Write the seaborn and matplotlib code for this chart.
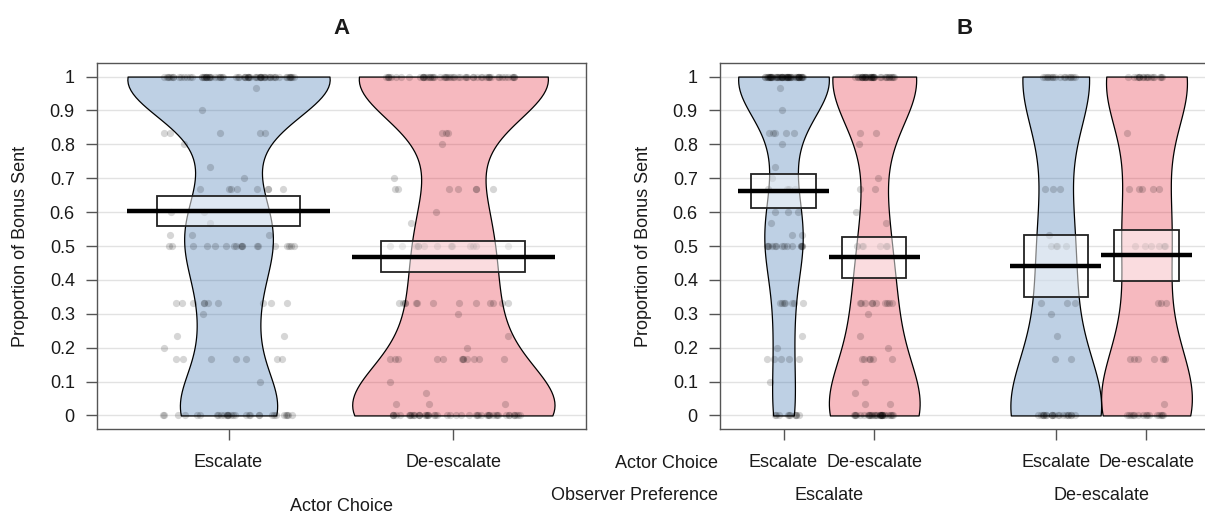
import numpy as np
import pandas as pd
import matplotlib
matplotlib.use("Agg")
import matplotlib.pyplot as plt
import seaborn as sns

# Proportion of bonus sent: response levels and number of participants per level,
# one pair of lists per (observer preference, actor choice) condition.
esc_pref_esc_choice_vals = [0, 0.1, 0.167, 0.2, 0.233, 0.333, 0.5, 0.533, 0.567, 0.6,
                            0.667, 0.7, 0.733, 0.8, 0.833, 0.9, 0.967, 1]
esc_pref_esc_choice_counts = [10, 1, 5, 1, 1, 7, 14, 2, 1, 3, 5, 1, 1, 1, 5, 1, 1, 52]

esc_pref_de_choice_vals = [0, 0.033, 0.067, 0.1, 0.167, 0.2, 0.233, 0.3, 0.333, 0.5,
                           0.567, 0.6, 0.667, 0.7, 0.8, 0.833, 1]
esc_pref_de_choice_counts = [32, 2, 1, 1, 6, 1, 1, 1, 10, 7, 1, 1, 2, 1, 1, 2, 36]

de_pref_esc_choice_vals = [0, 0.167, 0.233, 0.3, 0.333, 0.5, 0.533, 0.667, 1]
de_pref_esc_choice_counts = [20, 2, 1, 1, 3, 4, 1, 3, 16]

de_pref_de_choice_vals = [0, 0.033, 0.167, 0.333, 0.5, 0.667, 0.833, 1]
de_pref_de_choice_counts = [15, 1, 6, 3, 6, 5, 1, 17]

choice_labels = ["Escalate", "De-escalate"]
pref_labels = ["Escalate", "De-escalate"]

# Means and inference bands, panel A (by actor choice)
a_means = [0.603, 0.468]
a_band_lo = [0.558, 0.423]
a_band_hi = [0.649, 0.514]

# Means and inference bands, panel B (pref x choice: EE, ED, DE, DD)
b_means = [0.662, 0.467, 0.440, 0.472]
b_band_lo = [0.613, 0.406, 0.349, 0.396]
b_band_hi = [0.711, 0.526, 0.532, 0.548]

y_ticks = [0, 0.1, 0.2, 0.3, 0.4, 0.5, 0.6, 0.7, 0.8, 0.9, 1]
y_ticklabels = ["0", "0.1", "0.2", "0.3", "0.4", "0.5", "0.6", "0.7", "0.8", "0.9", "1"]

palette = {"Escalate": "#2a66a8", "De-escalate": "#e31a2e"}
BEAN_ALPHA = 0.30
TEXT = "#1a1a1a"
AXIS = "#555555"

sns.set_style("white")
plt.rcParams["font.family"] = ["Liberation Sans", "DejaVu Sans"]
plt.rcParams["font.size"] = 13

# fixed seed so the horizontal jitter of the raw points is reproducible
np.random.seed(11)


def expand(vals, counts):
    return np.repeat(np.asarray(vals, float), counts)


conditions = [
    ("Escalate", "Escalate", esc_pref_esc_choice_vals, esc_pref_esc_choice_counts),
    ("Escalate", "De-escalate", esc_pref_de_choice_vals, esc_pref_de_choice_counts),
    ("De-escalate", "Escalate", de_pref_esc_choice_vals, de_pref_esc_choice_counts),
    ("De-escalate", "De-escalate", de_pref_de_choice_vals, de_pref_de_choice_counts),
]

rows_b = []
for pref, choice, vals, counts in conditions:
    pos = pref_labels.index(pref) * 3 + choice_labels.index(choice) + 1
    for v in expand(vals, counts):
        rows_b.append({"pos": pos, "pref": pref, "actor": choice, "value": v})
df_b = pd.DataFrame(rows_b)

df_a = df_b.copy()
df_a["pos"] = df_a["actor"].map({c: i + 1 for i, c in enumerate(choice_labels)})


def pirate(ax, df, means, lo, hi, bean_w, band_w, jitter):
    n_before = len(ax.collections)
    sns.violinplot(data=df, x="pos", y="value", hue="actor", hue_order=choice_labels,
                   palette=palette, native_scale=True, dodge=False, width=bean_w,
                   density_norm="width", cut=0, inner=None, bw_method="silverman",
                   bw_adjust=0.78, linecolor="black", linewidth=0.9, saturation=1,
                   legend=False, ax=ax)
    for coll in ax.collections[n_before:]:
        fc = coll.get_facecolor()
        fc[:, 3] = BEAN_ALPHA
        coll.set_facecolor(fc)
        coll.set_zorder(1)
    sns.stripplot(data=df, x="pos", y="value", native_scale=True, jitter=jitter,
                  color="black", alpha=0.16, size=5.2, linewidth=0, ax=ax, zorder=2)
    pos = np.sort(df["pos"].unique()).astype(float)
    ax.bar(pos, np.subtract(hi, lo), bottom=lo, width=band_w,
           facecolor=(1, 1, 1, 0.5), edgecolor="#222222", linewidth=1.3, zorder=3)
    ax.hlines(means, pos - bean_w / 2, pos + bean_w / 2, color="black",
              linewidth=3.2, zorder=4, capstyle="butt")
    return pos


def style_axes(ax):
    ax.set_ylim(-0.04, 1.04)
    ax.set_yticks(y_ticks)
    ax.set_yticklabels(y_ticklabels)
    ax.yaxis.grid(True, color="#e2e2e2", linewidth=1)
    ax.xaxis.grid(False)
    ax.set_axisbelow(True)
    for s in ax.spines.values():
        s.set_color(AXIS)
        s.set_linewidth(1.0)
        s.set_visible(True)
    ax.tick_params(axis="both", direction="out", length=8, width=1, color=AXIS,
                   labelcolor=TEXT, labelsize=13, left=True, bottom=True)
    ax.tick_params(axis="y", pad=8)
    ax.tick_params(axis="x", pad=10)
    ax.set_ylabel("Proportion of Bonus Sent", fontsize=13, color=TEXT)
    ax.yaxis.label.set_va("center")


fig = plt.figure(figsize=(12.05, 5.23), dpi=100)
ax_a = fig.add_axes([97 / 1205, 1 - 429 / 523, 489 / 1205, 366 / 523])
ax_b = fig.add_axes([720 / 1205, 1 - 429 / 523, 490 / 1205, 366 / 523])

# Panel A: actor choice only
pos_a = pirate(ax_a, df_a, a_means, a_band_lo, a_band_hi, bean_w=0.9, band_w=0.64, jitter=0.3)
style_axes(ax_a)
ax_a.set_xlim(0.415, 2.59)
ax_a.set_xticks(pos_a)
ax_a.set_xticklabels(choice_labels)
ax_a.set_xlabel("Actor Choice", fontsize=13, color=TEXT)
ax_a.xaxis.set_label_coords(0.5, -0.213)
ax_a.xaxis.label.set_va("center")
ax_a.yaxis.set_label_coords(-0.157, 0.5)
ax_a.set_title("A", fontweight="bold", fontsize=16, pad=21, color=TEXT)

# Panel B: observer preference x actor choice
pos_b = pirate(ax_b, df_b, b_means, b_band_lo, b_band_hi, bean_w=1.0, band_w=0.71, jitter=0.22)
style_axes(ax_b)
ax_b.set_xlim(0.3, 5.7)
ax_b.set_xticks(pos_b)
ax_b.set_xticklabels(choice_labels * 2)
ax_b.set_xlabel("")
ax_b.yaxis.set_label_coords(-77 / 490, 0.5)
ax_b.set_title("B", fontweight="bold", fontsize=16, pad=21, color=TEXT)

row1_y = (429 - 463) / 366
row2_y = (429 - 495) / 366
lab_x = (718 - 720) / 490
ax_b.text(lab_x, row1_y, "Actor Choice", transform=ax_b.transAxes, ha="right",
          va="center", fontsize=13, color=TEXT)
ax_b.text(lab_x, row2_y, "Observer Preference", transform=ax_b.transAxes, ha="right",
          va="center", fontsize=13, color=TEXT)
blend = ax_b.get_xaxis_transform()
for k, pref in enumerate(pref_labels):
    centre = pos_b[2 * k:2 * k + 2].mean()
    ax_b.text(centre, row2_y, pref, transform=blend, ha="center", va="center",
              fontsize=13, color=TEXT)

fig.savefig("out.png", dpi=100)
